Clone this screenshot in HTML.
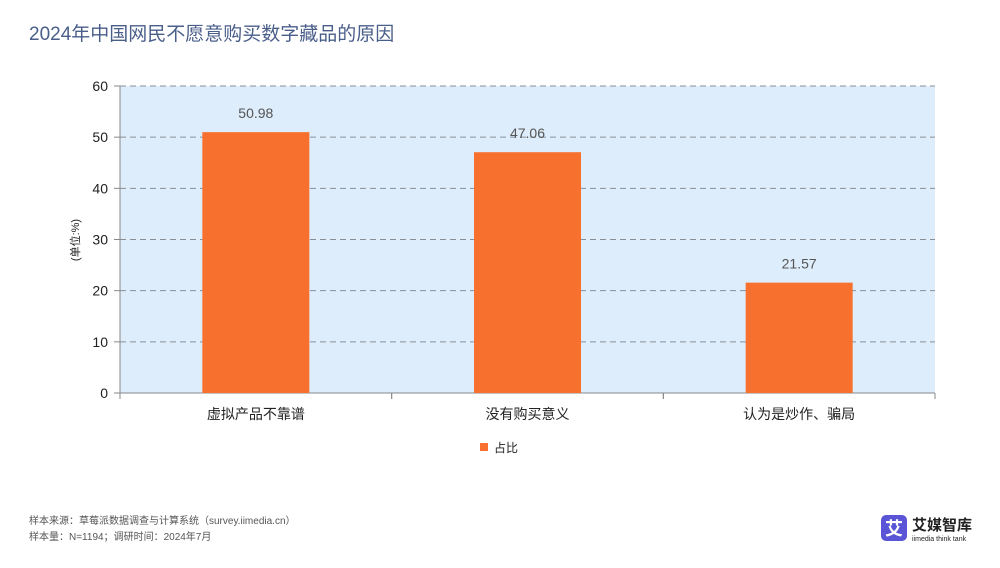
<!DOCTYPE html>
<html><head><meta charset="utf-8"><style>
body{margin:0;width:1000px;height:563px;background:#fff;overflow:hidden;font-family:"Liberation Sans","Noto Sans CJK SC",sans-serif;}
svg text{font-family:"Liberation Sans","Noto Sans CJK SC",sans-serif;}
</style></head><body>
<svg width="1000" height="563">
<text x="29" y="40" font-size="19" fill="#4a5e8a">2024年中国网民不愿意购买数字藏品的原因</text>
<g id="plot"></g>
<text transform="translate(79,240) rotate(-90)" font-size="11" fill="#222" text-anchor="middle">(单位:%)</text>
<g><rect x="480" y="443" width="8" height="8" fill="#f7702d"/><text x="494" y="452" font-size="12" fill="#222">占比</text></g>
<text x="29" y="524" font-size="10" fill="#555">样本来源：草莓派数据调查与计算系统（survey.iimedia.cn）</text>
<text x="29" y="540" font-size="10" fill="#555">样本量：N=1194；调研时间：2024年7月</text>
<g><rect x="881" y="515" width="26" height="26" rx="5" fill="#5a55d6"/><text x="894" y="535" font-size="18" fill="#fff" text-anchor="middle" font-weight="bold">艾</text><text x="912" y="530" font-size="15" font-weight="bold" fill="#222">艾媒智库</text><text x="912" y="541" font-size="7" fill="#222">iimedia think tank</text></g>
</svg>
<script>
const categories=["虚拟产品不靠谱","没有购买意义","认为是炒作、骗局"];
const values=[50.98,47.06,21.57];
const ticks=[0,10,20,30,40,50,60];
const L=120,R=935,T=86,B=393,max=60;
const ns="http://www.w3.org/2000/svg";
const g=document.getElementById("plot");
const y=v=>B-(v/max)*(B-T);
const bw=(R-L)/categories.length;
const x=i=>L+bw*i+bw/2;
function mk(t,a){const e=document.createElementNS(ns,t);for(const k in a)e.setAttribute(k,a[k]);g.appendChild(e);return e;}
const bg=mk("rect",{x:L,y:T,width:R-L,height:B-T,fill:"#deedfb"});


ticks.forEach(t=>{
 if(t>0){const gl=mk("line",{x1:L,x2:R,y1:y(t),y2:y(t),stroke:"#8a8f96","stroke-dasharray":"6,4","stroke-width":1});
 
 }
 mk("line",{x1:114,x2:L,y1:y(t),y2:y(t),stroke:"#888"});
 const tl=mk("text",{x:108,y:y(t)+5,"font-size":14,"text-anchor":"end",fill:"#222"});tl.textContent=t;
 
 
});
mk("line",{x1:L,x2:L,y1:T,y2:B,stroke:"#888"});
mk("line",{x1:L,x2:R,y1:B,y2:B,stroke:"#888"});
categories.forEach((c,i)=>{
 [L+bw*i,L+bw*(i+1)].forEach(px=>mk("line",{x1:px,x2:px,y1:B,y2:B+6,stroke:"#888"}));
 const b=mk("rect",{x:x(i)-53.5,y:y(values[i]),width:107,height:B-y(values[i]),fill:"#f7702d"});
 
 
 const v=mk("text",{x:x(i),y:y(values[i])-14,"font-size":14,"text-anchor":"middle",fill:"#555"});v.textContent=values[i].toFixed(2);
 
 
 const cl=mk("text",{x:x(i),y:419,"font-size":14,"text-anchor":"middle",fill:"#222"});cl.textContent=c;
 
 
});
</script>
</body></html>
